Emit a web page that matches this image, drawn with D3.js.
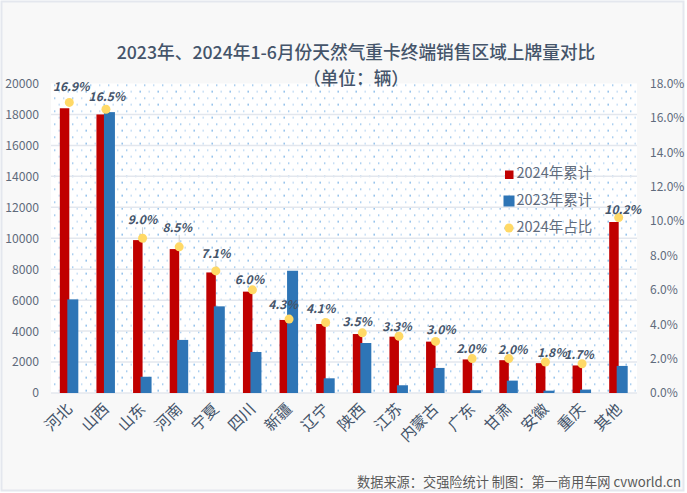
<!DOCTYPE html>
<html>
<head>
<meta charset="utf-8">
<script src="https://cdn.jsdelivr.net/npm/d3@7"></script>
<style>
  html, body { margin: 0; padding: 0; background: #fff; }
  svg { display: block; }
  text { font-family: "Noto Sans CJK SC", "Noto Sans", sans-serif; }
</style>
</head>
<body>
<svg id="chart" width="687" height="493"></svg>
<script>
"use strict";

const provinces = ["河北", "山西", "山东", "河南", "宁夏", "四川", "新疆", "辽宁", "陕西", "江苏", "内蒙古", "广东", "甘肃", "安徽", "重庆", "其他"];
const sales2024 = [18400, 18000, 9880, 9300, 7790, 6550, 4720, 4460, 3810, 3640, 3320, 2170, 2120, 1930, 1780, 11050];
const sales2023 = [6050, 18150, 1050, 3430, 5600, 2650, 7900, 950, 3230, 500, 1620, 180, 800, 150, 220, 1750];
const share2024 = [16.9, 16.5, 9.0, 8.5, 7.1, 6.0, 4.3, 4.1, 3.5, 3.3, 3.0, 2.0, 2.0, 1.8, 1.7, 10.2];
const salesTicks = [0, 2000, 4000, 6000, 8000, 10000, 12000, 14000, 16000, 18000, 20000];
const shareTicks = [0, 2, 4, 6, 8, 10, 12, 14, 16, 18];
const seriesNames = ["2024年累计", "2023年累计", "2024年占比"];

const colors = { red: "#c00000", blue: "#2e75b6", dot: "#ffd966", text: "#44546a", axis: "#5f6b7c", grid: "#e3e7ee" };

// label offsets from the marker
const labelDx = [2, 1, 0, -2, 0, -3, -6, -5, -5, -2, 5.5, -1, 4, 6.5, -3, 4];
const labelDy = [-11, -8, -14, -15, -13, -6, -10, -9.5, -7, -5, -7.5, -5.5, -5, -5, -5, -3.5];

const svg = d3.select("#chart");
const margin = { top: 83.5, right: 50, bottom: 100, left: 51 };
const width = 687, height = 493;
const plotRight = width - margin.right, plotBottom = height - margin.bottom;

// card background
svg.append("rect")
    .attr("x", 1.5).attr("y", 1.5)
    .attr("width", width - 5).attr("height", height - 4)
    .attr("fill", "#f8f8f8")
    .attr("stroke", "#e4e7ee")
    .attr("stroke-width", 2);

const x = d3.scaleBand().domain(provinces).range([margin.left, plotRight]);
const ySales = d3.scaleLinear().domain([0, 20000]).range([plotBottom, margin.top]);
const yShare = d3.scaleLinear().domain([0, 18]).range([plotBottom, margin.top]);

// dotted plot fill
const pattern = svg.append("defs").append("pattern")
    .attr("id", "dots")
    .attr("patternUnits", "userSpaceOnUse")
    .attr("x", margin.left + 3).attr("y", margin.top + 1)
    .attr("width", 18).attr("height", 13);
pattern.append("rect").attr("width", 18).attr("height", 13).attr("fill", "#fff");
pattern.append("rect").attr("x", 0).attr("y", 0).attr("width", 1.4).attr("height", 1.4).attr("fill", "#86baea");
pattern.append("rect").attr("x", 9).attr("y", 0).attr("width", 1.4).attr("height", 1.4).attr("fill", "#aed0f0");
pattern.append("rect").attr("x", 4.5).attr("y", 6.5).attr("width", 1.4).attr("height", 1.4).attr("fill", "#aed0f0");
pattern.append("rect").attr("x", 13.5).attr("y", 6.5).attr("width", 1.4).attr("height", 1.4).attr("fill", "#5aa0e0");

svg.append("rect")
    .attr("x", margin.left).attr("y", margin.top)
    .attr("width", plotRight - margin.left).attr("height", plotBottom - margin.top)
    .attr("fill", "url(#dots)");

// gridlines
svg.append("g").selectAll("line")
    .data(salesTicks.slice(0, -1))
    .enter().append("line")
        .attr("x1", margin.left).attr("x2", plotRight)
        .attr("y1", d => ySales(d)).attr("y2", d => ySales(d))
        .attr("stroke", colors.grid)
        .attr("stroke-width", 1.5);

// left axis
const leftAxis = svg.append("g")
    .attr("transform", `translate(${margin.left},0)`)
    .call(d3.axisLeft(ySales).tickValues(salesTicks).tickFormat(d3.format("d")).tickSize(0).tickPadding(12));
leftAxis.select(".domain").remove();
leftAxis.selectAll("text").attr("fill", colors.axis).attr("font-size", 12.2);

// right axis
const rightAxis = svg.append("g")
    .attr("transform", `translate(${plotRight},0)`)
    .call(d3.axisRight(yShare).tickValues(shareTicks).tickFormat(d => d.toFixed(1) + "%").tickSize(0).tickPadding(13));
rightAxis.select(".domain").remove();
rightAxis.selectAll("text").attr("fill", colors.axis).attr("font-size", 12);

// category axis
const bottomAxis = svg.append("g")
    .attr("transform", `translate(0,${plotBottom})`)
    .call(d3.axisBottom(x).tickSize(0).tickPadding(0));
bottomAxis.select(".domain").remove();
bottomAxis.selectAll("text")
    .attr("fill", colors.text)
    .attr("font-size", 15.5)
    .attr("text-anchor", "end")
    .attr("dominant-baseline", "middle")
    .attr("dy", 0)
    .attr("transform", "translate(1,14) rotate(-45)");

// bars, blue sits on top of the red one
const redWidth = 9.5, blueWidth = 11;
svg.append("g").selectAll("rect")
    .data(provinces)
    .enter().append("rect")
        .attr("x", d => x(d) + x.bandwidth() / 2 - redWidth)
        .attr("y", (d, i) => ySales(sales2024[i]))
        .attr("width", redWidth)
        .attr("height", (d, i) => plotBottom - ySales(sales2024[i]))
        .attr("fill", colors.red);

svg.append("g").selectAll("rect")
    .data(provinces)
    .enter().append("rect")
        .attr("x", d => x(d) + x.bandwidth() / 2 - 2)
        .attr("y", (d, i) => ySales(sales2023[i]))
        .attr("width", blueWidth)
        .attr("height", (d, i) => plotBottom - ySales(sales2023[i]))
        .attr("fill", colors.blue);

// leader lines, only where the label sits far from its marker
svg.append("g").selectAll("line")
    .data(provinces.filter((d, i) => labelDy[i] <= -13))
    .enter().append("line")
        .attr("x1", d => x(d) + x.bandwidth() / 2)
        .attr("x2", d => x(d) + x.bandwidth() / 2)
        .attr("y1", d => yShare(share2024[provinces.indexOf(d)]) - 4)
        .attr("y2", d => yShare(share2024[provinces.indexOf(d)]) + labelDy[provinces.indexOf(d)] + 3)
        .attr("stroke", "#bfbfbf")
        .attr("stroke-width", 0.75);

// share markers
svg.append("g").selectAll("circle")
    .data(provinces)
    .enter().append("circle")
        .attr("cx", d => x(d) + x.bandwidth() / 2)
        .attr("cy", (d, i) => yShare(share2024[i]))
        .attr("r", 4.5)
        .attr("fill", colors.dot);

// share labels
svg.append("g").selectAll("text")
    .data(provinces)
    .enter().append("text")
        .attr("x", (d, i) => x(d) + x.bandwidth() / 2 + labelDx[i])
        .attr("y", (d, i) => yShare(share2024[i]) + labelDy[i])
        .attr("text-anchor", "middle")
        .attr("font-size", 12)
        .attr("font-style", "italic")
        .attr("font-weight", 700)
        .attr("fill", colors.text)
        .text((d, i) => share2024[i].toFixed(1) + "%");

// title
const title = svg.append("g").attr("text-anchor", "middle").attr("fill", colors.text).attr("font-weight", 500);
title.append("text").attr("x", 356).attr("y", 59).attr("font-size", 17.7).text("2023年、2024年1-6月份天然气重卡终端销售区域上牌量对比");
title.append("text").attr("x", 356).attr("y", 84.5).attr("font-size", 17.7).text("（单位：辆）");

// legend
const legendY = [174.5, 201, 228];
const legend = svg.append("g");
legend.append("rect").attr("x", 505).attr("y", legendY[0] - 4).attr("width", 8.5).attr("height", 8.5).attr("fill", colors.red);
legend.append("rect").attr("x", 503.5).attr("y", legendY[1] - 5.5).attr("width", 11).attr("height", 11).attr("fill", colors.blue);
legend.append("circle").attr("cx", 509).attr("cy", legendY[2]).attr("r", 4.5).attr("fill", colors.dot);
legend.selectAll("text")
    .data(seriesNames)
    .enter().append("text")
        .attr("x", 516.5)
        .attr("y", (d, i) => legendY[i])
        .attr("dominant-baseline", "middle")
        .attr("font-size", 14.5)
        .attr("fill", colors.axis)
        .text(d => d);

// source line
svg.append("text")
    .attr("x", 681).attr("y", 487)
    .attr("text-anchor", "end")
    .attr("font-size", 13.2)
    .attr("fill", "#595959")
    .text("数据来源：交强险统计  制图：第一商用车网 cvworld.cn");
</script>
</body>
</html>
